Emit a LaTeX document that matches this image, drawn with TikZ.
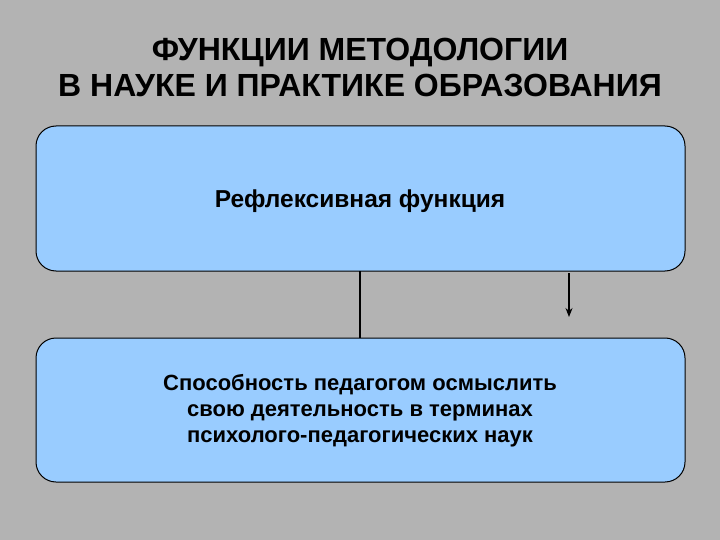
\documentclass[tikz,border=0pt]{standalone}
\usepackage{fontspec}
\setmainfont{Liberation Sans}
\usetikzlibrary{arrows.meta}
\begin{document}
\begin{tikzpicture}[x=1pt,y=-1pt,
  box/.style={draw=black, line width=1pt, fill=boxblue, rounded corners=20pt},
  conn/.style={draw=black, line width=1.5pt},
  title/.style={font=\bfseries\fontsize{32}{36}\selectfont, align=center, text=black},
  btext/.style={font=\bfseries\fontsize{22}{26}\selectfont, align=center, text=black}]
\definecolor{bggray}{HTML}{B3B3B3}
\definecolor{boxblue}{HTML}{99CCFF}
\fill[bggray] (0,0) rectangle (720,540);
\useasboundingbox (0,0) rectangle (720,540);
\node[title] (t) at (360,67) {ФУНКЦИИ МЕТОДОЛОГИИ\\В НАУКЕ И ПРАКТИКЕ ОБРАЗОВАНИЯ};
\path[box] (36,126) rectangle (685,271);
\coordinate (b1) at (360,271);
\coordinate (b1r) at (569,273);
\node[btext, font=\bfseries\fontsize{24.5}{28}\selectfont] (f) at (360,201) {Рефлексивная функция};
\path[box] (36,338) rectangle (685,482);
\coordinate (b2) at (360,338);
\coordinate (a2) at (569,317);
\node[btext] (s) at (360,411) {Способность педагогом осмыслить\\свою деятельность в терминах\\психолого-педагогических наук};
\draw[conn] (b1) -- (b2);
\draw[black, line width=1.2pt, -{Stealth[length=9pt,width=7pt]}] (b1r) -- (a2);
\end{tikzpicture}
\end{document}
